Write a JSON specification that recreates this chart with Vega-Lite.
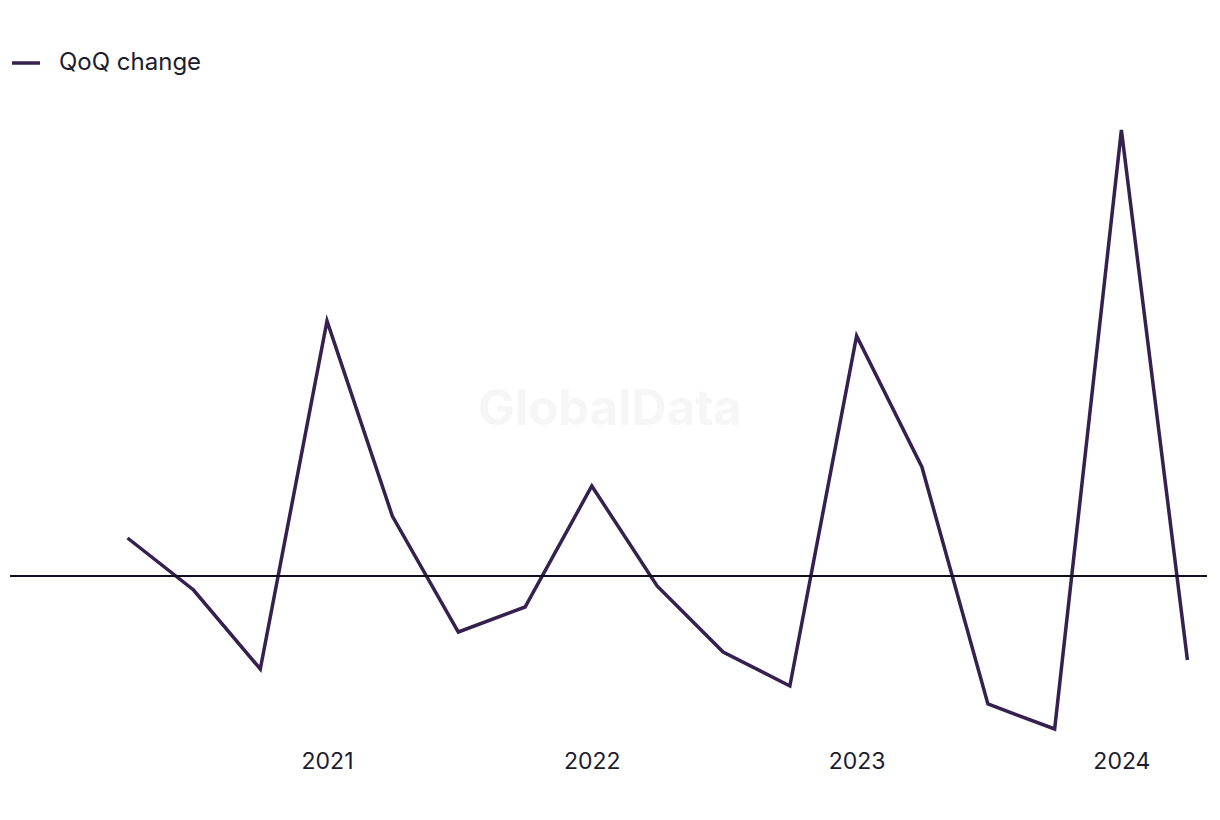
{
  "$schema": "https://vega.github.io/schema/vega-lite/v6.json",
  "width": 1197,
  "height": 650,
  "autosize": {"type": "none"},
  "padding": {"left": 10, "top": 95, "right": 13, "bottom": 75},
  "background": "#ffffff",
  "config": {
    "view": {"stroke": null},
    "font": "Inter"
  },
  "layer": [
    {
      "data": {
        "values": [
          {"date": "2020-04-01", "value": 1.9, "series": "QoQ change"},
          {"date": "2020-07-01", "value": -0.7, "series": "QoQ change"},
          {"date": "2020-10-01", "value": -4.65, "series": "QoQ change"},
          {"date": "2021-01-01", "value": 12.75, "series": "QoQ change"},
          {"date": "2021-04-01", "value": 3.0, "series": "QoQ change"},
          {"date": "2021-07-01", "value": -2.8, "series": "QoQ change"},
          {"date": "2021-10-01", "value": -1.55, "series": "QoQ change"},
          {"date": "2022-01-01", "value": 4.5, "series": "QoQ change"},
          {"date": "2022-04-01", "value": -0.5, "series": "QoQ change"},
          {"date": "2022-07-01", "value": -3.8, "series": "QoQ change"},
          {"date": "2022-10-01", "value": -5.5, "series": "QoQ change"},
          {"date": "2023-01-01", "value": 12.0, "series": "QoQ change"},
          {"date": "2023-04-01", "value": 5.45, "series": "QoQ change"},
          {"date": "2023-07-01", "value": -6.4, "series": "QoQ change"},
          {"date": "2023-10-01", "value": -7.65, "series": "QoQ change"},
          {"date": "2024-01-01", "value": 22.3, "series": "QoQ change"},
          {"date": "2024-04-01", "value": -4.2, "series": "QoQ change"}
        ]
      },
      "mark": {"type": "line", "strokeWidth": 3.5, "strokeJoin": "miter"},
      "encoding": {
        "x": {
          "field": "date",
          "type": "temporal",
          "scale": {"domain": [1571702400000, 1714262400000]},
          "axis": {
            "title": null,
            "format": "%Y",
            "values": [1609459200000, 1640995200000, 1672531200000, 1704067200000],
            "domain": false,
            "ticks": false,
            "grid": false,
            "labelFontSize": 23,
            "labelColor": "#1c1c2e",
            "labelPadding": 5,
            "labelFont": "Inter"
          }
        },
        "y": {
          "field": "value",
          "type": "quantitative",
          "scale": {"domain": [-8.45, 24.05], "nice": false, "zero": false},
          "axis": null
        },
        "color": {
          "field": "series",
          "type": "nominal",
          "scale": {"range": ["#35204f"]},
          "legend": {
            "title": null,
            "orient": "none",
            "legendX": 0,
            "legendY": -48,
            "padding": 0,
            "symbolType": "stroke",
            "symbolSize": 784,
            "symbolStrokeWidth": 3.5,
            "labelFontSize": 24,
            "labelColor": "#1c1c2e",
            "labelFont": "Inter",
            "labelOffset": 17
          }
        }
      }
    },
    {
      "data": {"values": [{"zero": 0}]},
      "mark": {"type": "rule", "color": "#0f0f1f", "strokeWidth": 1.8},
      "encoding": {
        "y": {"field": "zero", "type": "quantitative", "scale": {"domain": [-8.45, 24.05], "nice": false, "zero": false}}
      }
    },
    {
      "data": {"values": [{"date": "2022-01-26", "value": 8.3, "label": "GlobalData"}]},
      "mark": {"type": "text", "font": "Inter", "fontWeight": "bold", "fontSize": 49, "color": "#f6f6f6", "align": "center", "baseline": "middle"},
      "encoding": {
        "x": {"field": "date", "type": "temporal", "scale": {"domain": [1571702400000, 1714262400000]}},
        "y": {"field": "value", "type": "quantitative", "scale": {"domain": [-8.45, 24.05], "nice": false, "zero": false}},
        "text": {"field": "label"}
      }
    }
  ]
}
